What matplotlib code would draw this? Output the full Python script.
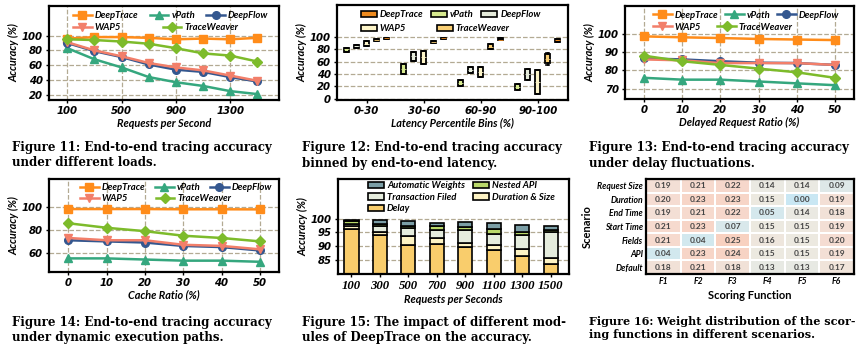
import numpy as np
import matplotlib
matplotlib.use("Agg")
import matplotlib.pyplot as plt
from matplotlib.patches import Patch
from matplotlib.colors import LinearSegmentedColormap

plt.rcParams['font.family'] = ['Lato', 'DejaVu Sans']

# ---- data ----
methods = ['DeepTrace', 'vPath', 'DeepFlow', 'WAP5', 'TraceWeaver']

rps = [100, 300, 500, 700, 900, 1100, 1300, 1500]
load_acc = {
    'DeepTrace':   [96, 98, 98, 97, 95, 96, 95, 97],
    'vPath':       [83, 68, 57, 44, 37, 32, 25, 21],
    'DeepFlow':    [90, 79, 71, 61, 54, 51, 44, 38],
    'WAP5':        [91, 80, 72, 63, 57, 53, 46, 39],
    'TraceWeaver': [95, 94, 92, 89, 83, 76, 73, 65],
}

delay_ratio = [0, 10, 20, 30, 40, 50]
delay_acc = {
    'DeepTrace':   [98.5, 98.0, 97.6, 97.1, 96.8, 96.5],
    'vPath':       [76, 75, 75, 74, 73, 72],
    'DeepFlow':    [86.5, 86, 85, 84.2, 84, 83],
    'WAP5':        [86, 85.5, 84, 84, 84, 83],
    'TraceWeaver': [88, 85, 83, 81, 79, 76],
}

cache_ratio = [0, 10, 20, 30, 40, 50]
cache_acc = {
    'DeepTrace':   [98.5, 98.5, 98.5, 98.3, 98.3, 98.2],
    'vPath':       [55, 55, 54, 53, 53, 52],
    'DeepFlow':    [71, 70, 69, 66, 65, 62],
    'WAP5':        [73, 71, 71, 67, 66, 63],
    'TraceWeaver': [86, 82, 79, 75, 73, 70],
}

lat_bins = ['0-30', '30-60', '60-90', '90-100']
box_order = ['vPath', 'DeepFlow', 'WAP5', 'TraceWeaver', 'DeepTrace']
# (whislo, q1, med, q3, whishi) per bin
box_stats = {
    'vPath':       [(76, 76, 80, 83, 83), (40, 40, 48, 57, 57), (21, 21, 25, 30, 30), (14, 14, 19, 24, 24)],
    'DeepFlow':    [(83, 83, 85, 87, 87), (62, 62, 69, 75, 75), (42, 42, 47, 52, 52), (30, 30, 40, 48, 48)],
    'WAP5':        [(85, 85, 89, 93, 93), (57, 57, 67, 78, 78), (35, 35, 43, 52, 52), (8, 8, 27, 46, 46)],
    'TraceWeaver': [(94, 94, 96, 97, 97), (90, 90, 92, 94, 94), (80, 80, 84, 88, 88), (55, 58, 65, 72, 74)],
    'DeepTrace':   [(97, 97, 98, 99, 99), (97, 97, 98, 99, 99), (95, 95, 96, 98, 98), (92, 92, 95, 97, 97)],
}

module_rps = ['100', '300', '500', '700', '900', '1100', '1300', '1500']
module_names = ['Delay', 'Duration & Size', 'Transaction Filed', 'Nested API', 'Automatic Weights']
delay_part = [96.2, 94.0, 90.5, 90.7, 89.5, 88.5, 86.5, 83.5]
dursize_part = [1.0, 1.0, 3.0, 2.3, 1.5, 1.8, 2.5, 2.0]
txn_part = [0.8, 2.3, 3.0, 3.0, 4.8, 4.2, 5.0, 9.5]
nested_part = [1.0, 0.7, 1.0, 1.3, 1.0, 1.8, 1.0, 0.8]
autow_part = [0.7, 1.5, 1.5, 1.2, 2.0, 2.2, 2.7, 1.7]

scenarios = ['Request Size', 'Duration', 'End Time', 'Start Time', 'Fields', 'API', 'Default']
score_funcs = ['F1', 'F2', 'F3', 'F4', 'F5', 'F6']
weights = [
    [0.19, 0.21, 0.22, 0.14, 0.14, 0.09],
    [0.20, 0.23, 0.23, 0.15, 0.00, 0.19],
    [0.19, 0.21, 0.22, 0.05, 0.14, 0.18],
    [0.21, 0.23, 0.07, 0.15, 0.15, 0.19],
    [0.21, 0.04, 0.25, 0.16, 0.15, 0.20],
    [0.04, 0.23, 0.24, 0.15, 0.15, 0.19],
    [0.18, 0.21, 0.18, 0.13, 0.13, 0.17],
]

# ---- styles ----
line_colors = {'DeepTrace': '#ff8c1a', 'vPath': '#35a77e', 'DeepFlow': '#34578f',
               'WAP5': '#f27f6a', 'TraceWeaver': '#7dbb2b'}
line_markers = {'DeepTrace': 's', 'vPath': '^', 'DeepFlow': 'o', 'WAP5': 'v', 'TraceWeaver': 'D'}
box_colors = {'DeepTrace': '#ee8a1e', 'vPath': '#d7ea8f', 'DeepFlow': '#e5ebdb',
              'WAP5': '#fdf5c9', 'TraceWeaver': '#f9cf74'}
module_colors = ['#f9cd6c', '#fdf3c4', '#e5ecdd', '#b9d86a', '#7b9ea6']
grid_c = '#b3aa93'
leg_prop = {'size': 6.8, 'weight': 'bold', 'style': 'italic'}
W, H = 865, 351
fig = plt.figure(figsize=(W / 100, H / 100), dpi=100)


def add_ax(l, r, t, b):
    return fig.add_axes([l / W, 1 - b / H, (r - l) / W, (b - t) / H])


def style(ax, size=7.3, family='DejaVu Sans'):
    for s in ax.spines.values():
        s.set_linewidth(1.6)
    ax.tick_params(length=2.5, width=1, pad=2)
    for lab in ax.get_xticklabels() + ax.get_yticklabels():
        lab.set_fontweight('bold')
        lab.set_fontstyle('italic')
        lab.set_fontsize(size)
        lab.set_family(family)


def label(ax, xl, yl):
    ax.set_xlabel(xl, fontsize=7.8, fontweight='bold', fontstyle='italic', labelpad=1)
    ax.set_ylabel(yl, fontsize=7.8, fontweight='bold', fontstyle='italic', labelpad=2)


def two_rows(ax, handles, x0, y1, y2, cs1, cs2, hl=2.0, hh=0.7):
    # legend laid out row by row: 3 entries on top, 2 below
    kw = dict(loc='center left', frameon=False, prop=leg_prop, borderpad=0,
              borderaxespad=0, handlelength=hl, handleheight=hh, handletextpad=0.3)
    top = ax.legend(handles[:3], [h.get_label() for h in handles[:3]], ncol=3,
                    bbox_to_anchor=(x0, y1), columnspacing=cs1, **kw)
    ax.add_artist(top)
    ax.legend(handles[3:], [h.get_label() for h in handles[3:]], ncol=2,
              bbox_to_anchor=(x0, y2), columnspacing=cs2, **kw)


def line_panel(ax, x, data, x0, y1, y2, cs1, cs2):
    lines = []
    for m in methods:
        ln, = ax.plot(x, data[m], color=line_colors[m], marker=line_markers[m], lw=1.8,
                      ms=5.5, label=m)
        lines.append(ln)
    ax.grid(True, ls='--', color=grid_c, lw=0.9)
    ax.set_axisbelow(True)
    two_rows(ax, lines, x0, y1, y2, cs1, cs2)


def caption(x, y, lines, size=8.5):
    fig.text(x / W, 1 - y / H, lines, fontsize=size, fontweight='bold',
             family='DejaVu Serif', va='top', ha='left', linespacing=1.25)


# Figure 11
ax = add_ax(49, 279, 6, 100)
line_panel(ax, rps, load_acc, 0.104, 0.894, 0.766, 1.2, 4.4)
ax.set_xlim(-35, 1660)
ax.set_ylim(13, 140)
ax.set_xticks([100, 500, 900, 1300])
ax.set_yticks([20, 40, 60, 80, 100])
label(ax, 'Requests per Second', 'Accuracy (%)')
style(ax)
caption(12, 141, 'Figure 11: End-to-end tracing accuracy\nunder different loads.')

# Figure 12
ax = add_ax(337, 568, 5, 100)
offs = [-0.35, -0.175, 0, 0.175, 0.35]
for k, m in enumerate(box_order):
    stats = []
    for s in box_stats[m]:
        stats.append({'whislo': s[0], 'q1': s[1], 'med': s[2], 'q3': s[3], 'whishi': s[4]})
    ax.bxp(stats, positions=np.arange(len(lat_bins)) + offs[k], widths=0.09,
           patch_artist=True, showfliers=False, showcaps=True,
           boxprops={'facecolor': box_colors[m], 'edgecolor': 'black', 'linewidth': 1.3},
           medianprops={'color': box_colors[m], 'linewidth': 0.6},
           whiskerprops={'linewidth': 1.2}, capprops={'linewidth': 1.2})
ax.set_xlim(-0.52, 3.53)
ax.set_ylim(-2, 152)
ax.set_xticks(range(len(lat_bins)))
ax.set_xticklabels(lat_bins)
ax.set_yticks([0, 20, 40, 60, 80, 100])
ax.yaxis.grid(True, ls='--', color=grid_c, lw=0.9)
ax.set_axisbelow(True)
patches = [Patch(facecolor=box_colors[m], edgecolor='black', lw=1.2, label=m) for m in methods]
two_rows(ax, patches, 0.104, 0.895, 0.75, 0.8, 3.2, hl=1.7, hh=0.65)
label(ax, 'Latency Percentile Bins (%)', 'Accuracy (%)')
style(ax)
caption(302, 141, 'Figure 12: End-to-end tracing accuracy\nbinned by end-to-end latency.')

# Figure 13
ax = add_ax(625, 854, 6, 99)
line_panel(ax, delay_ratio, delay_acc, 0.122, 0.903, 0.774, 0.7, 1.7)
ax.set_xlim(-5, 55)
ax.set_ylim(64.5, 115)
ax.set_xticks(delay_ratio)
ax.set_yticks([70, 80, 90, 100])
label(ax, 'Delayed Request Ratio (%)', 'Accuracy (%)')
style(ax)
caption(589, 141, 'Figure 13: End-to-end tracing accuracy\nunder delay fluctuations.')

# Figure 14
ax = add_ax(49, 279, 179, 272)
line_panel(ax, cache_ratio, cache_acc, 0.135, 0.906, 0.785, 1.0, 2.9)
ax.set_xlim(-5, 55)
ax.set_ylim(43, 125)
ax.set_xticks(cache_ratio)
ax.set_yticks([60, 80, 100])
label(ax, 'Cache Ratio (%)', 'Accuracy (%)')
style(ax)
caption(12, 316, 'Figure 14: End-to-end tracing accuracy\nunder dynamic execution paths.')

# Figure 15
ax = add_ax(338, 569, 179, 274)
xs = np.arange(len(module_rps))
parts = [delay_part, dursize_part, txn_part, nested_part, autow_part]
bottom = np.zeros(len(module_rps))
bars = []
for name, vals, c in zip(module_names, parts, module_colors):
    b = ax.bar(xs, vals, 0.5, bottom=bottom, color=c, edgecolor='black', lw=1.2, label=name)
    bars.append(b)
    bottom = bottom + np.array(vals)
ax.set_xlim(-0.47, 7.64)
ax.set_ylim(79.8, 114.5)
ax.set_xticks(xs)
ax.set_xticklabels(module_rps)
ax.set_yticks([85, 90, 95, 100])
ax.yaxis.grid(True, ls='--', color=grid_c, lw=0.9)
ax.set_axisbelow(True)
order = [4, 2, 0, 3, 1]
ax.legend([bars[i] for i in order], [module_names[i] for i in order], loc='upper left',
          bbox_to_anchor=(0.13, 0.975), ncol=2, frameon=False, prop=leg_prop,
          borderpad=0, borderaxespad=0,
          handlelength=1.7, handleheight=0.65, columnspacing=0.9, handletextpad=0.3,
          labelspacing=0.25)
label(ax, 'Requests per Seconds', 'Accuracy (%)')
style(ax)
for lab in ax.get_xticklabels():
    lab.set_family('Liberation Serif')
    lab.set_fontsize(9.2)
caption(302, 316, 'Figure 15: The impact of different mod-\nules of DeepTrace on the accuracy.')

# Figure 16
ax = add_ax(646, 854, 179, 274)
cmap = LinearSegmentedColormap.from_list(
    'w', [(0.0, '#c9e7f3'), (0.5, '#e6e9e4'), (0.6, '#ece9e0'), (0.8, '#f5dcd2'), (1.0, '#f8d1c0')])
arr = np.array(weights)
ax.pcolormesh(arr, cmap=cmap, vmin=0.0, vmax=0.25, edgecolors='white', linewidth=1.2)
for i in range(arr.shape[0]):
    for j in range(arr.shape[1]):
        ax.text(j + 0.5, i + 0.5, f'{arr[i, j]:.2f}', ha='center', va='center',
                fontsize=6, fontweight='bold', color='#444444')
ax.set_xlim(0, 6)
ax.set_ylim(7, 0)
ax.set_xticks(np.arange(6) + 0.5)
ax.set_xticklabels(score_funcs)
ax.set_yticks(np.arange(7) + 0.5)
ax.set_yticklabels(scenarios)
style(ax, size=6.2, family='Lato')
ax.tick_params(length=0)
ax.set_xlabel('Scoring Function', fontsize=8, fontweight='bold', labelpad=3)
ax.set_ylabel('Scenario', fontsize=8, fontweight='bold', labelpad=3)
caption(589, 316, 'Figure 16: Weight distribution of the scor-\ning functions in different scenarios.', size=8.0)

fig.savefig('out.png', dpi=100, facecolor='white')
